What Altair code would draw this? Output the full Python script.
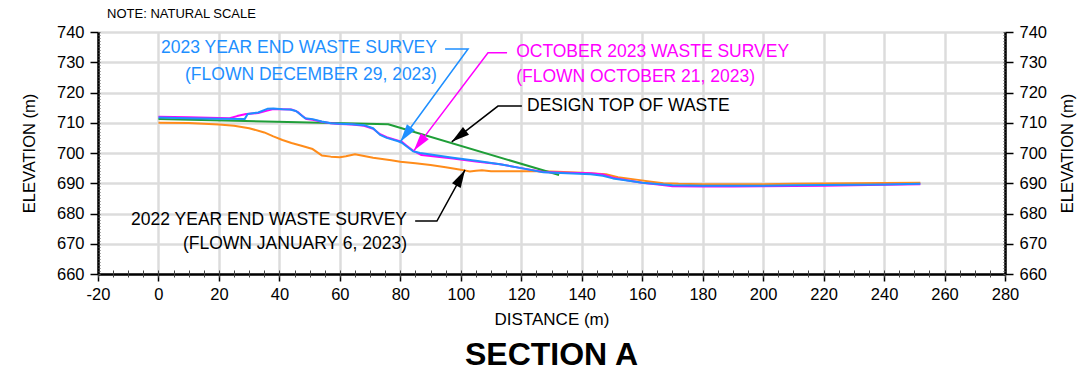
import math

import altair as alt
import pandas as pd

FONT = "Liberation Sans, Arial, sans-serif"

# ---- Section A profiles: distance along section (m) and elevation (m) ----
survey_2022_x = [0, 10, 20, 25, 30, 35, 38, 41, 44, 47, 51, 54, 57, 60, 62, 65,
                 68, 71, 74, 77, 80, 85, 90, 95, 100, 103, 105, 107, 110, 115,
                 120, 125, 130, 140, 148, 152, 158, 163, 167, 172, 180, 190,
                 200, 210, 220, 230, 240, 252]
survey_2022_y = [710.0, 709.9, 709.4, 709.0, 708.2, 706.8, 705.5, 704.3, 703.3,
                 702.5, 701.3, 699.2, 698.8, 698.6, 698.9, 699.6, 699.0, 698.4,
                 698.0, 697.6, 697.1, 696.6, 696.0, 695.3, 694.5, 693.9, 694.1,
                 694.3, 694.0, 694.0, 694.0, 694.0, 693.9, 693.5, 693.0, 692.0,
                 691.2, 690.5, 690.0, 689.8, 689.7, 689.7, 689.7, 689.8, 689.9,
                 690.0, 690.1, 690.2]

design_x = [0, 76, 132.5]
design_y = [711.2, 709.5, 692.7]

oct_2023_x = [0, 10, 20, 23.5, 26, 29, 33, 36, 38, 41, 44, 46, 47.5, 49, 51, 54,
              57, 60, 64, 68, 71, 73.3, 75.5, 79.3, 80.5, 82, 84.5, 87, 90, 97.4,
              105, 113, 120, 127.3, 135, 143, 147, 150.3, 155, 160, 166, 170,
              180, 190, 200, 210, 220, 230, 240, 252]
oct_2023_y = [712.0, 711.8, 711.6, 711.5, 712.2, 712.9, 713.2, 714.0, 714.5,
              714.5, 714.4, 713.6, 712.3, 711.2, 711.0, 710.3, 709.8, 709.6,
              709.4, 709.0, 708.0, 706.2, 705.2, 704.1, 703.7, 702.5, 700.6,
              699.3, 699.0, 698.2, 697.2, 696.3, 695.0, 693.7, 693.5, 693.3,
              692.9, 691.8, 691.0, 690.2, 689.5, 689.0, 688.9, 688.9, 689.0,
              689.1, 689.2, 689.3, 689.5, 689.7]

dec_2023_x = [0, 10, 20, 28.5, 29.5, 33, 36, 38, 41, 43.5, 45.5, 48.5, 51, 54,
              57, 60, 64, 68, 71, 73.3, 75.5, 79.3, 80.5, 84.2, 86.5, 90, 97.4,
              105, 113, 120, 127.3, 135, 143, 147, 150.3, 155, 160, 166, 170,
              180, 190, 200, 210, 220, 230, 240, 252]
dec_2023_y = [711.7, 711.5, 711.3, 711.2, 712.9, 713.4, 714.6, 714.7, 714.5,
              714.4, 713.9, 711.5, 711.2, 710.4, 709.8, 709.7, 709.5, 709.2,
              708.2, 706.0, 705.0, 703.9, 703.4, 700.6, 700.0, 699.5, 698.4,
              697.4, 696.3, 695.0, 693.6, 693.3, 693.0, 692.5, 691.6, 690.9,
              690.2, 689.7, 689.3, 689.2, 689.2, 689.2, 689.3, 689.4, 689.5,
              689.6, 689.8]

ORANGE = "#ff8c1a"
GREEN = "#1f9e38"
MAGENTA = "#ff00ff"
BLUE = "#1e8fff"
BLACK = "#000000"

# ---- plot frame ----
W, H = 907, 242
X_DOMAIN = [-20, 280]
Y_DOMAIN = [660, 740]
x_scale = alt.Scale(domain=X_DOMAIN, nice=False, zero=False)
y_scale = alt.Scale(domain=Y_DOMAIN, nice=False, zero=False)

x_major = list(range(-20, 281, 20))
x_minor = list(range(-20, 281, 5))
y_major = list(range(660, 741, 10))
y_minor = list(range(660, 741, 1))

GRID = "#dcdcdc"
PLAIN_LABEL = "'' + datum.value"  # hyphen-minus for negative labels

ax_x_main = alt.Axis(
    values=x_major, orient="bottom", grid=True, gridColor=GRID, gridWidth=2.5,
    tickSize=7, tickWidth=1.5, tickColor=BLACK, domainColor=BLACK,
    domainWidth=2.5, labelFont=FONT, labelFontSize=16.5, labelColor=BLACK,
    labelPadding=5, labelFlush=False, labelOverlap=False, labelExpr=PLAIN_LABEL,
    title="DISTANCE (m)", titleFont=FONT, titleFontSize=17,
    titleFontWeight="normal", titleColor=BLACK, titlePadding=9,
)
ax_x_minor_out = alt.Axis(
    values=x_minor, orient="bottom", grid=False, labels=False, domain=False,
    tickSize=3, tickWidth=1, tickColor="#444444", title="",
)
ax_x_minor_in = alt.Axis(
    values=x_minor, orient="top", offset=-H, grid=False, labels=False,
    domain=False, tickSize=4, tickWidth=1, tickColor="#444444", title="",
)
ax_y_left = alt.Axis(
    values=y_major, orient="left", grid=True, gridColor=GRID, gridWidth=2.5,
    tickSize=8, tickWidth=1.5, tickColor=BLACK, domainColor=BLACK,
    domainWidth=2.5, labelFont=FONT, labelFontSize=16.5, labelColor=BLACK,
    labelPadding=6, labelFlush=False, labelOverlap=False,
    title="ELEVATION (m)", titleFont=FONT, titleFontSize=16.5,
    titleFontWeight="normal", titleColor=BLACK, titlePadding=19,
)
ax_y_right = alt.Axis(
    values=y_major, orient="right", grid=False,
    tickSize=8, tickWidth=1.5, tickColor=BLACK, domainColor=BLACK,
    domainWidth=2.5, labelFont=FONT, labelFontSize=16.5, labelColor=BLACK,
    labelPadding=6, labelFlush=False, labelOverlap=False,
    title="ELEVATION (m)", titleFont=FONT, titleFontSize=16.5, titleAngle=270,
    titleBaseline="top", titleFontWeight="normal", titleColor=BLACK,
    titlePadding=13,
)
ax_y_minor_left = alt.Axis(
    values=y_minor, orient="right", offset=-W, grid=False, labels=False,
    domain=False, tickSize=2, tickWidth=1, tickColor="#555555", title="",
)
ax_y_minor_right = alt.Axis(
    values=y_minor, orient="left", offset=-W, grid=False, labels=False,
    domain=False, tickSize=2, tickWidth=1, tickColor="#555555", title="",
)


def profile(xs, ys, color, x_axis=None, y_axis=None):
    df = pd.DataFrame({"distance": xs, "elevation": ys, "i": range(len(xs))})
    return alt.Chart(df).mark_line(
        color=color, strokeWidth=2, strokeJoin="round"
    ).encode(
        x=alt.X("distance:Q", scale=x_scale, axis=x_axis),
        y=alt.Y("elevation:Q", scale=y_scale, axis=y_axis),
        order="i:Q",
    )


layers = [
    profile(survey_2022_x, survey_2022_y, ORANGE, ax_x_main, ax_y_left),
    profile(design_x, design_y, GREEN, ax_x_minor_out, ax_y_right),
    profile(oct_2023_x, oct_2023_y, MAGENTA, ax_x_minor_in, ax_y_minor_left),
    profile(dec_2023_x, dec_2023_y, BLUE, None, ax_y_minor_right),
]

# ---- callouts: labels, leader lines and arrowheads (data coordinates) ----
labels_right = pd.DataFrame({
    "text": ["2023 YEAR END WASTE SURVEY", "(FLOWN DECEMBER 29, 2023)",
             "2022 YEAR END WASTE SURVEY", "(FLOWN JANUARY 6, 2023)"],
    "x": [92.1, 92.1, 82.2, 82.2],
    "y": [734.7, 725.8, 677.9, 669.9],
    "color": [BLUE, BLUE, BLACK, BLACK],
})
labels_left = pd.DataFrame({
    "text": ["OCTOBER 2023 WASTE SURVEY", "(FLOWN OCTOBER 21, 2023)",
             "DESIGN TOP OF WASTE"],
    "x": [118.3, 118.3, 121.9],
    "y": [733.4, 725.1, 715.5],
    "color": [MAGENTA, MAGENTA, BLACK],
})

# each leader: horizontal stub start, elbow, arrow tip
leaders = [
    ("dec", BLUE, (94.8, 734.4), (102.4, 734.4), (80.0, 703.7)),
    ("oct", MAGENTA, (115.3, 733.1), (109.0, 733.1), (84.5, 700.8)),
    ("design", BLACK, (120.2, 715.5), (112.3, 715.5), (97.0, 703.7)),
    ("y2022", BLACK, (84.9, 677.5), (92.1, 677.5), (101.4, 694.4)),
]

kx = W / (X_DOMAIN[1] - X_DOMAIN[0])
ky = H / (Y_DOMAIN[1] - Y_DOMAIN[0])

leader_rows, tip_rows = [], []
for name, color, start, elbow, tip in leaders:
    for k, (px, py) in enumerate([start, elbow, tip]):
        leader_rows.append({"leader": name, "k": k, "x": px, "y": py, "color": color})
    dx = (tip[0] - elbow[0]) * kx
    dy = -(tip[1] - elbow[1]) * ky
    ang = math.degrees(math.atan2(-dx, dy)) % 360
    tip_rows.append({"x": tip[0], "y": tip[1], "angle": ang, "color": color})

leader_df = pd.DataFrame(leader_rows)
tip_df = pd.DataFrame(tip_rows)

X_NOAX = alt.X("x:Q", scale=x_scale, axis=None)
Y_NOAX = alt.Y("y:Q", scale=y_scale, axis=None)

leader_layer = alt.Chart(leader_df).mark_line(strokeWidth=1.5).encode(
    x=X_NOAX, y=Y_NOAX, detail="leader:N", order="k:Q",
    color=alt.Color("color:N", scale=None),
)

ARROW = "M0,0 L-0.55,-2 L0.55,-2 Z"
tip_layer = alt.Chart(tip_df).mark_point(
    shape=ARROW, size=324, filled=True, opacity=1, strokeWidth=0
).encode(
    x=X_NOAX, y=Y_NOAX,
    angle=alt.Angle("angle:Q", scale=None),
    color=alt.Color("color:N", scale=None),
)

text_right = alt.Chart(labels_right).mark_text(
    align="right", baseline="middle", font=FONT, fontSize=17.5
).encode(x=X_NOAX, y=Y_NOAX, text="text:N", color=alt.Color("color:N", scale=None))

text_left = alt.Chart(labels_left).mark_text(
    align="left", baseline="middle", font=FONT, fontSize=17.5
).encode(x=X_NOAX, y=Y_NOAX, text="text:N", color=alt.Color("color:N", scale=None))

note = alt.Chart(pd.DataFrame({"text": ["NOTE: NATURAL SCALE"], "x": [-17.0], "y": [746.0]})).mark_text(
    align="left", baseline="middle", font=FONT, fontSize=13, color=BLACK
).encode(x=X_NOAX, y=Y_NOAX, text="text:N")

section_title = alt.Chart(pd.DataFrame({"text": ["SECTION A"]})).mark_text(
    align="center", baseline="middle", font=FONT, fontSize=32,
    fontWeight="bold", color=BLACK
).encode(x=alt.value(W / 2), y=alt.value(H + 81), text="text:N")

chart = alt.layer(
    *layers, leader_layer, tip_layer, text_right, text_left, note, section_title
).resolve_axis(
    x="independent", y="independent"
).properties(
    width=W, height=H,
    autosize=alt.AutoSizeParams(type="none"),
    padding={"left": 98, "top": 32, "right": 77, "bottom": 99},
    background="white",
).configure_view(stroke=None)

chart.save("out.html", embed_options={"renderer": "svg", "actions": False})
